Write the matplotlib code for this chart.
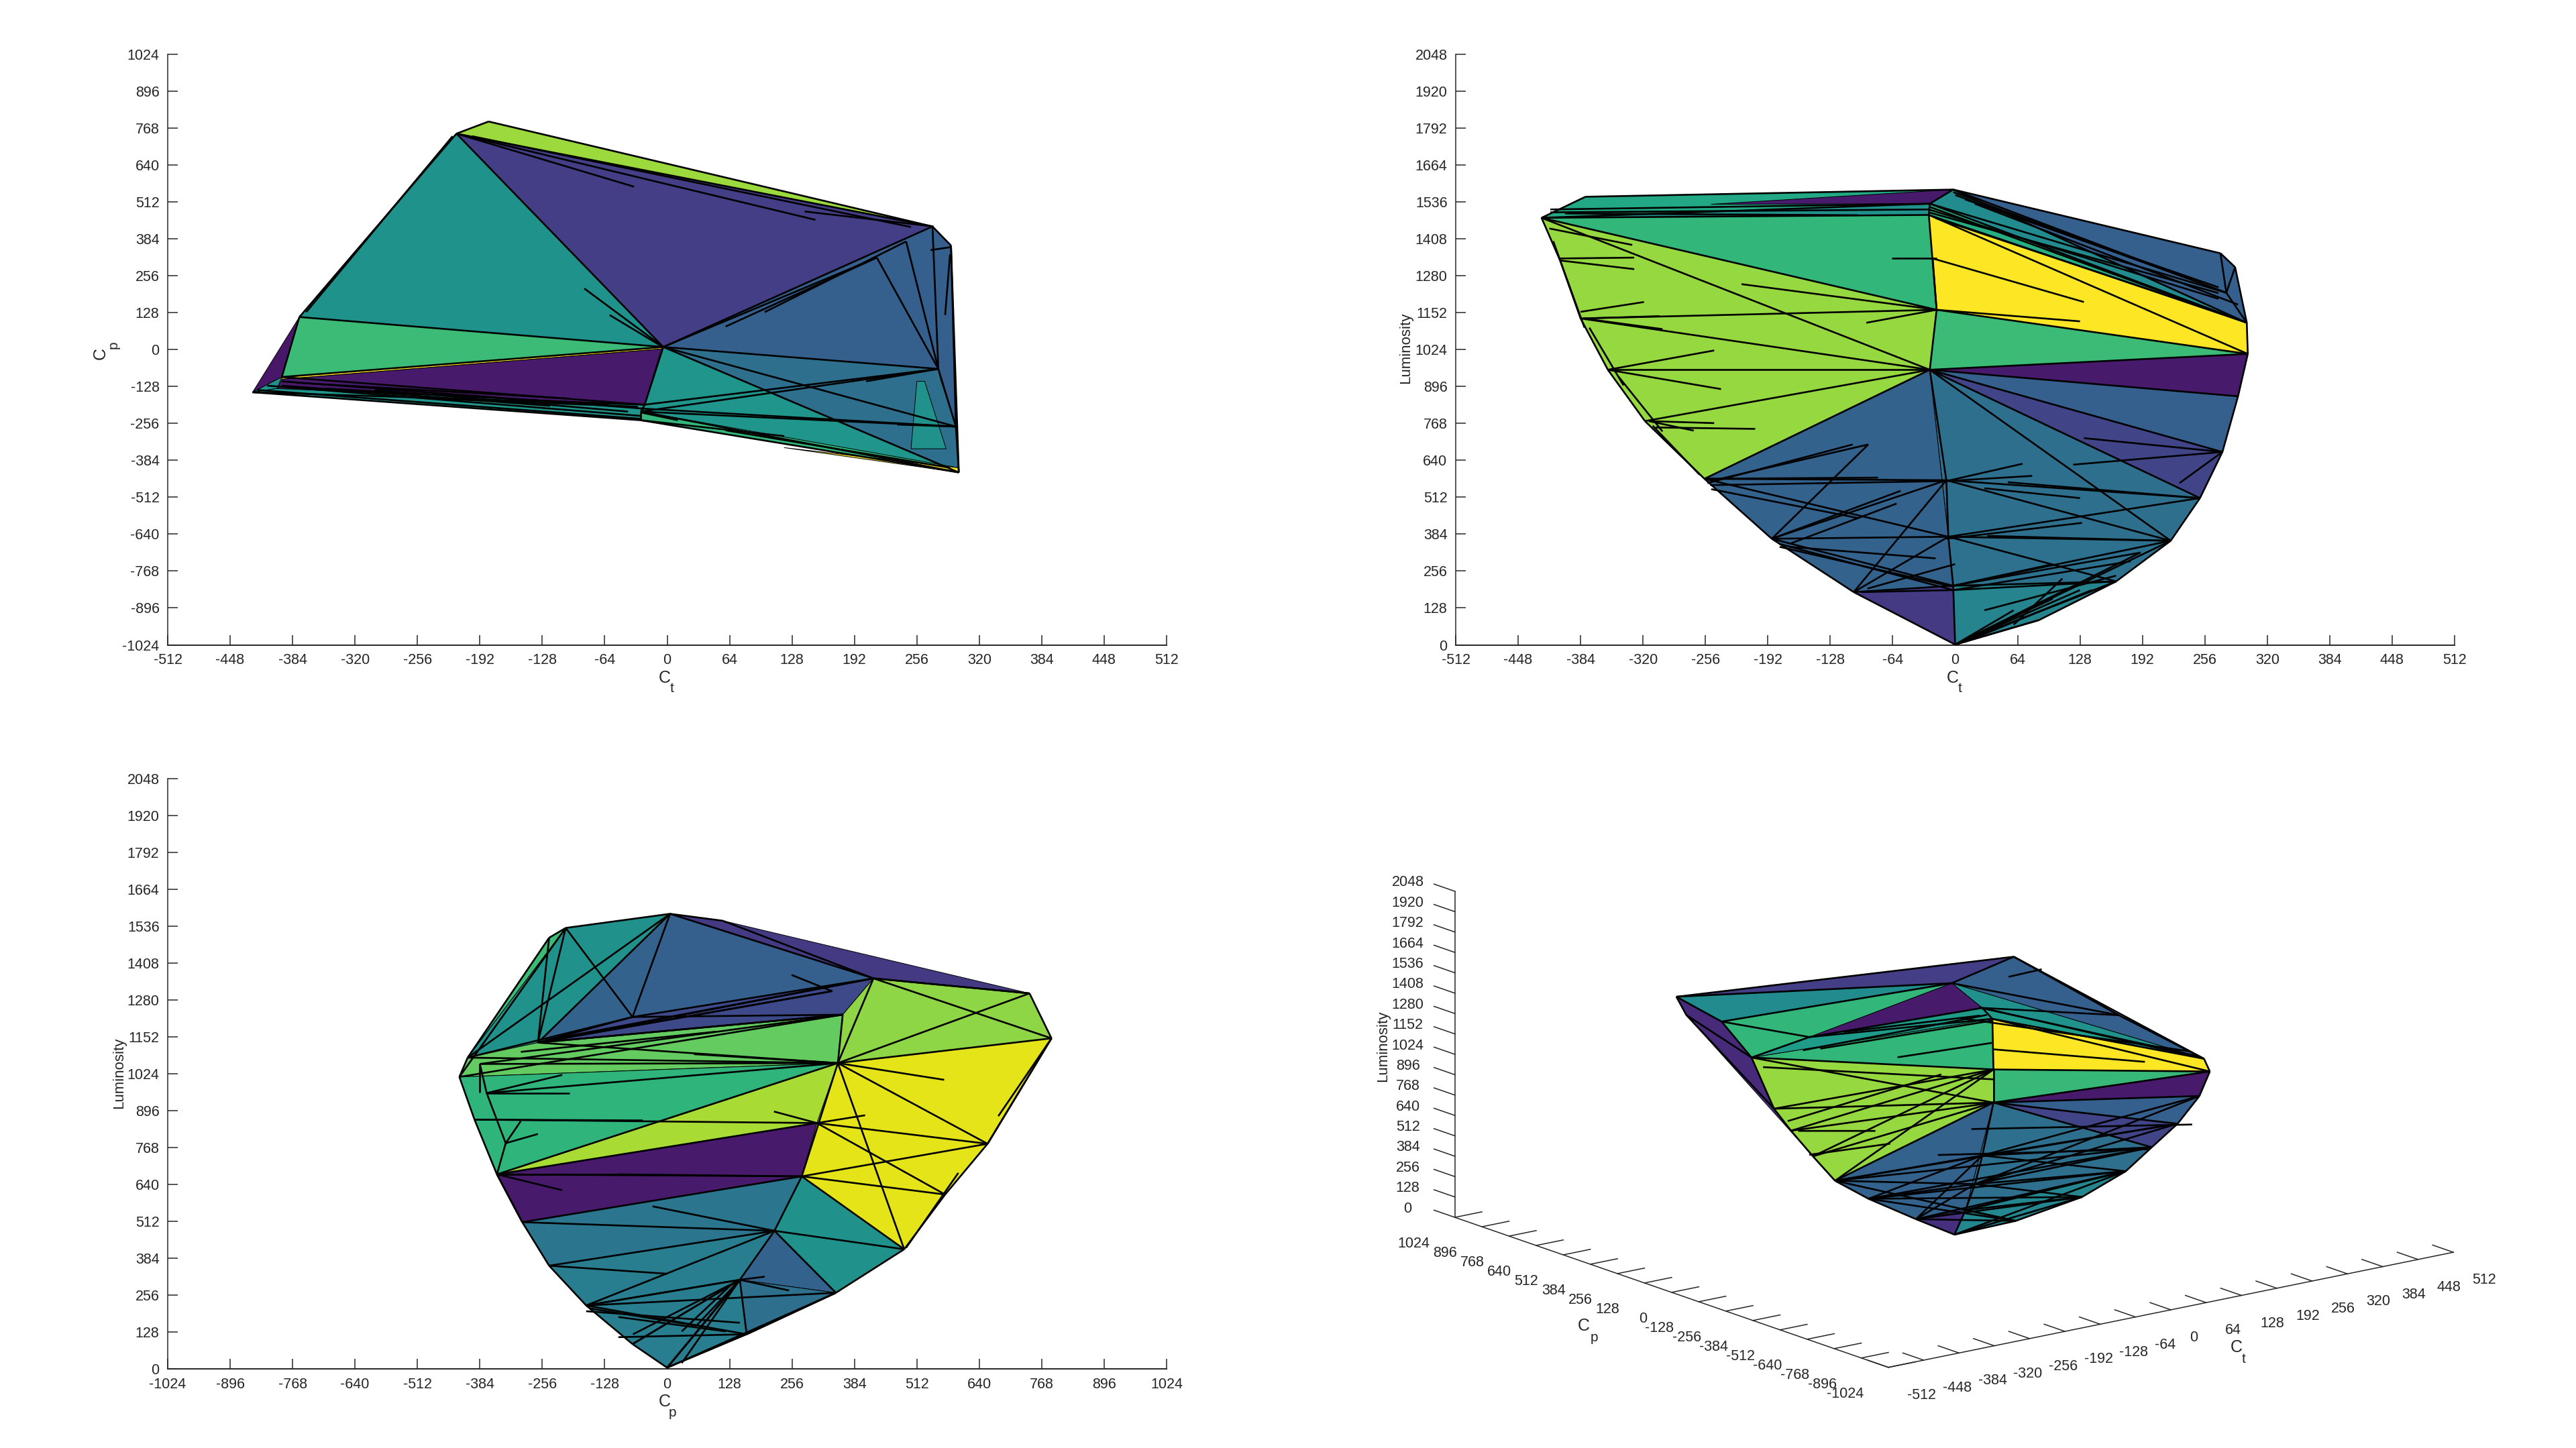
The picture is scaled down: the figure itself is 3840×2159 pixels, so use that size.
import numpy as np
import matplotlib
matplotlib.use('Agg')
import matplotlib.pyplot as plt
from matplotlib.collections import PolyCollection, LineCollection
from matplotlib.colors import Normalize
from mpl_toolkits.mplot3d.art3d import Poly3DCollection, Line3DCollection

plt.rcParams['font.family'] = ['Liberation Sans', 'DejaVu Sans']
plt.rcParams['axes.unicode_minus'] = False

ct_ticks = np.arange(-512, 513, 64)
cp_ticks = np.arange(-1024, 1025, 128)
lum_ticks = np.arange(0, 2049, 128)

# top view, (Ct, Cp)
p1_pts = {'A': (-183, 791), 'B': (-216, 749), 'C': (272, 427), 'D': (291, 361), 'E': (-4, 9),
          'F': (-377, 113), 'G': (-395, -95), 'H': (-425, -148), 'I': (-23, -191), 'J': (-27, -245),
          'K': (299, -426), 'L': (296, -267), 'M': (278, -67), 'N': (215, 319), 'O': (245, 375),
          'P': (-395, -103), 'Q': (-27, -215), 'R': (299, -410), 'S': (-6, 2), 'T': (120, -340),
          'U': (256, -110), 'V': (264, -110), 'W': (286, -344), 'X': (250, -344), 'Y': (275, -240),
          'Z': (280, -100), 'a': (-400, -135), 'b': (-408, 100)}
p1_faces = ['ACB', 'BEF', 'BCE', 'FEG', 'GESP', 'PSIa', 'HFG', 'HGa', 'ECM', 'CDLM', 'EML', 'ELK',
            'EIQK', 'HaIJ', 'QRKJ', 'TRK', 'UVWX', 'ZLM']
p1_vals = [0.85, 0.51, 0.18, 0.68, 1.0, 0.07, 0.06, 0.5, 0.3, 0.3, 0.36, 0.36,
           0.52, 0.52, 0.66, 1.0, 0.5, 0.86]
p1_pairs = ['BE', 'BC', 'BF', 'FE', 'GE', 'EC', 'EM', 'EL', 'EK', 'CM', 'NM', 'OM', 'DL', 'LK',
            'MI', 'MQ', 'QL', 'FG', 'GI', 'HI', 'HJ', 'IQ', 'QJ', 'JK', 'QK', 'AB', 'AC', 'CD',
            'EI', 'EN', 'ML', 'DK']
p1_stray = [(-216, 749, -34, 565), (-216, 749, 152, 450), (-200, 740, 250, 425), (141, 479, 273, 427),
            (-85, 212, -4, 9), (-59, 120, -6, 12), (236, -260, 296, -267), (204, -110, 278, -67),
            (-27, -218, 11, -245), (-395, -110, -23, -205), (-410, -125, -27, -230), (-380, -115, -100, -170),
            (60, 80, 215, 319), (100, 130, 245, 375), (270, 345, 290, 355), (285, 120, 290, 330),
            (-23, -205, 296, -267), (-420, -140, -27, -240), (-300, -140, -40, -215),
            (-240, -170, -30, -198), (-350, -135, -60, -190), (-395, -125, -120, -195),
            (-27, -245, 120, -300), (60, -280, 290, -410), (-370, 130, -220, 740)]

# front view, (Ct, Luminosity)
p2_pts = {'a': (-2, 1579), 'b': (-26, 1530), 'c': (-27, 1491), 'd': (-424, 1481), 'e': (-379, 1554),
          'f': (272, 1358), 'g': (287, 1310), 'h': (299, 1117), 'i': (300, 1009), 'j': (290, 862),
          'k': (274, 669), 'l': (251, 509), 'm': (221, 361), 'n': (165, 220), 'o': (86, 86),
          'p': (0, 1), 'q': (-104, 183), 'r': (-188, 368), 's': (-257, 576), 't': (-318, 776),
          'u': (-356, 954), 'v': (-384, 1132), 'w': (-405, 1333), 'x': (-26, 954), 'y': (-19, 1162),
          'z': (-23, 1340), 'A': (-9, 571), 'B': (-7, 375), 'C': (-2, 205), 'D': (278, 1221),
          'G': (-250, 1528)}
p2_faces = ['eabd', 'Gab', 'dbc', 'dcy', 'dwvutsxy', 'cyi', 'chi', 'yix', 'xij', 'xjk', 'xkl', 'xlmB',
            'BmnC', 'xBCqrs', 'qCp', 'Cpon', 'afgh', 'abh', 'bch']
p2_vals = [0.6, 0.07, 0.5, 0.66, 0.84, 1.0, 1.0, 0.68, 0.07, 0.3, 0.2, 0.36,
           0.37, 0.31, 0.17, 0.45, 0.3, 0.48, 0.62]
p2_pairs = ['dx', 'vy', 'ux', 'vx', 'tx', 'sx', 'dy', 'cy', 'yx', 'xA', 'AB', 'BC', 'Cp', 'xl', 'xm',
            'xk', 'xj', 'xi', 'yi', 'ci', 'ch', 'bh', 'ah', 'aD', 'bD', 'fD', 'gD', 'Dh', 'sA', 'sB',
            'rB', 'rA', 'qB', 'qA', 'rC', 'Am', 'Al', 'Bm', 'Bl', 'Bn', 'Cn', 'Cm', 'pn', 'pm', 'po',
            'qC', 'db', 'dc', 'ea', 'zy', 'ab', 'bc', 'ij', 'jk', 'kl', 'lm', 'mn', 'no',
            'op', 'pq', 'qr', 'rs', 'st', 'tu', 'uv', 'vw', 'wd', 'de', 'af', 'fg', 'gh', 'hi']
p2_stray = [(-219, 1251, -19, 1162), (-91, 1117, -19, 1162), (-384, 1155, -319, 1189), (-381, 1132, -303, 1140),
            (-381, 1132, -300, 1095), (-356, 954, -247, 1021), (-356, 954, -240, 887), (-405, 1340, -329, 1343),
            (-405, 1333, -329, 1303), (-416, 1444, -331, 1387), (-314, 776, -247, 769), (-314, 776, -268, 743),
            (-307, 754, -205, 749), (-65, 1340, -19, 1340), (-254, 576, -79, 580), (-254, 561, -105, 695),
            (-251, 568, -89, 695), (-251, 554, -9, 568), (-188, 368, -89, 695), (-188, 368, -56, 534),
            (-180, 350, -2, 190), (-96, 183, -2, 190), (-9, 568, 69, 628), (-9, 568, 79, 586),
            (54, 564, 251, 509), (30, 543, 128, 509), (-9, 368, 130, 423), (33, 378, 219, 361),
            (121, 625, 274, 669), (132, 717, 274, 669), (230, 561, 274, 669), (-23, 1340, 132, 1189),
            (-19, 1162, 128, 1122), (0, 1, 128, 190), (0, 1, 165, 220), (0, 1, 190, 320), (-2, 1570, 278, 1221),
            (-27, 1520, 299, 1117), (-27, 1510, 270, 1200), (-2, 205, 190, 320), (-2, 190, 165, 220),
            (-415, 1510, -26, 1530), (-415, 1500, -27, 1510), (-400, 1496, -100, 1490),
            (-27, 1500, 270, 1220), (-20, 1480, 290, 1130), (0, 1560, 240, 1270), (20, 1530, 290, 1180),
            (10, 1545, 270, 1240), (-412, 1400, -380, 1100), (-375, 1100, -340, 900), (-345, 930, -300, 740),
            (-310, 760, -262, 590), (-180, 340, -7, 205), (0, 1, 60, 120), (0, 1, 100, 160), (10, 10, 140, 190),
            (-2, 190, 180, 290), (30, 120, 165, 240), (-2, 205, 100, 280), (60, 70, 110, 230),
            (-250, 540, -100, 440), (-170, 350, -60, 490), (-90, 195, 0, 280), (-170, 340, -20, 300)]

# side view, (Cp, Luminosity)
p3_pts = {'a': (6, 1579), 'b': (-208, 1530), 'c': (-242, 1496), 'd': (-409, 1080), 'e': (-426, 1013),
          'f': (-395, 865), 'g': (-349, 675), 'h': (-297, 509), 'i': (-242, 358), 'j': (-166, 220),
          'k': (-71, 86), 'l': (0, 4), 'm': (163, 120), 'n': (346, 264), 'o': (486, 415),
          'p': (570, 605), 'q': (657, 781), 'r': (788, 1147), 's': (743, 1303), 't': (423, 1355),
          'u': (114, 1555), 'v': (350, 1061), 'w': (307, 853), 'x': (276, 668), 'y': (220, 479),
          'z': (-71, 1221), 'A': (-265, 1132), 'B': (360, 1229), 'C': (336, 1310), 'D': (149, 309),
          'E': (-384, 1058), 'F': (-370, 957), 'G': (-331, 783)}
p3_faces = ['bcd', 'bad', 'dAa', 'azA', 'azt', 'aust', 'AztB', 'dABve', 'tsrvB', 'vrqpoxw', 'evgf', 'gvw',
            'gwxh', 'hxyi', 'xoy', 'yon', 'yDn', 'iyDj', 'jDmlk', 'Dnm']
p3_vals = [0.68, 0.5, 0.5, 0.31, 0.3, 0.17, 0.22, 0.76, 0.83, 0.96, 0.65, 0.87,
           0.07, 0.39, 0.5, 0.5, 0.31, 0.42, 0.42, 0.36]
p3_pairs = ['eB', 'eb', 'Ev', 'dv', 'Av', 'Fv', 'fw', 'gx', 'gv', 'hx', 'hy', 'iy', 'jy', 'jD', 'kD', 'mD',
            'lD', 'Dy', 'yn', 'yo', 'nm', 'vq', 'wq', 'wp', 'xq', 'xp', 'vo', 'vx', 'rq', 'vr', 'vs',
            'da', 'dz', 'Aa', 'Az', 'za', 'bz', 'cA', 'bA', 'At', 'zt', 'zB', 'AB', 'AC', 'tv', 'Bv',
            'xy', 'xo', 'ab', 'bc', 'cd', 'de', 'ef', 'fg', 'gh', 'hi', 'ij', 'jk', 'kl', 'lm', 'mn',
            'no', 'op', 'pq', 'qr', 'rs', 'st', 'tu', 'ua', 'ts', 'at', 'EF', 'FG', 'Gg', 'gw', 'gh',
            'jm', 'kD', 'ln', 'jn', 'Dl', 'rt']
p3_stray = [(350, 1061, 568, 1003), (55, 1092, 350, 1061), (307, 853, 219, 893), (307, 853, 406, 880),
            (-30, 564, 220, 479), (255, 1367, 339, 1310), (679, 877, 788, 1147), (490, 420, 597, 680),
            (-370, 957, -200, 957), (-370, 957, -215, 1020), (-395, 865, -50, 862), (-349, 675, -50, 675),
            (-349, 675, -215, 620), (-331, 783, -265, 815), (-100, 675, 276, 668), (-331, 783, -300, 860),
            (149, 309, 250, 272), (-242, 358, 0, 330), (149, 309, 200, 320), (149, 309, 60, 150),
            (149, 309, 30, 20), (149, 309, 0, 4), (130, 290, 30, 130), (-166, 220, 149, 309),
            (-166, 200, 149, 160), (-100, 110, 163, 120), (-70, 120, 149, 309), (-100, 180, 120, 130),
            (-160, 210, 60, 150), (-265, 1132, 336, 1310), (-250, 1140, 423, 1355), (-265, 1132, 360, 1229),
            (-384, 1058, 360, 1229), (-300, 1100, 100, 1170), (-384, 1058, -384, 960)]

# 3d view, (Ct, Cp, Luminosity)
p4_pts = {'A': (1, 1, 0), 'B': (-20, -238, 954), 'C': (-20, -238, 1162), 'D': (-27, -251, 1491),
          'E': (-23, -193, 1530), 'T': (-2, 6, 1579), 'F': (272, 427, 1358), 'W': (-216, 749, 1303),
          'd': (-424, -148, 1481), 'e': (-378, 113, 1554), 'i': (300, -426, 1010), 'h': (296, -409, 1085),
          'j': (285, -416, 862), 'k': (270, -352, 669), 'l': (247, -290, 509), 'm': (216, -248, 361),
          'n': (155, -200, 220), 'o': (71, -106, 86), 'q': (-88, -49, 183), 'r': (-172, -44, 368),
          's': (-260, -115, 576), 't': (-295, -102, 748), 'u': (-319, -61, 907), 'v': (-384, -150, 1132),
          'a': (-6, -149, 571), 'b': (-6, -114, 375), 'c': (-13, -88, 205), 'g': (-311, -127, 1520),
          'H': (271, -72, 1221), 'p': (-183, 788, 1147)}
p4_faces = ['WFT', 'WTe', 'TFHh', 'TEh', 'Teg', 'egd', 'TEg', 'gEDd', 'EDh', 'dDC', 'DhiC', 'dvutsBC', 'CiB',
            'Bij', 'Bjk', 'Bkl', 'Blmc', 'Bsrqc', 'qcA', 'cAonm', 'Wpvde', 'pvuts']
p4_vals = [0.18, 0.48, 0.3, 0.5, 0.66, 0.66, 0.07, 0.55, 0.55, 0.66, 1.0, 0.84, 0.67,
           0.07, 0.3, 0.2, 0.36, 0.31, 0.14, 0.46, 0.12, 0.14]
p4_pairs = ['dC', 'dB', 'vC', 'vB', 'uC', 'uB', 'tB', 'tC', 'sB', 'sC', 'Ba', 'ab', 'bc', 'cA', 'sa', 'sb',
            'ra', 'rb', 'qb', 'qa', 'la', 'lb', 'ma', 'mb', 'ka', 'jb', 'nb', 'nc', 'mc', 'oc', 'oA',
            'DC', 'CB', 'Di', 'Ci', 'Bi', 'Bj', 'Bk', 'Bl', 'Dh', 'Eh', 'TF', 'TH', 'FH', 'Hh', 'EH',
            'gD', 'gE', 'ED', 'eg', 'de', 'dg', 'Te', 'WT', 'WF', 'We', 'Fh', 'hi', 'ij', 'jk', 'kl',
            'lm', 'mn', 'no', 'Aq', 'qr', 'rs', 'st', 'tu', 'uv', 'vd', 'Wp', 'pd', 'pv',
            'rl', 'sl', 'qm', 'rm', 'sk', 'qn', 'rn', 'kb', 'ja', 'qo', 'cm', 'An', 'Am', 'ro', 'so']
p4_stray = [(-197, -246, 1367, -26, -246, 1337), (-377, -246, 1032, -237, -246, 933),
            (-357, -246, 868, -210, -246, 834), (-63, -246, 822, 337, -246, 568),
            (-124, -246, 702, 257, -246, 469), (256, 410, 1251, 316, 410, 1256),
            (-300, -150, 1450, -27, -251, 1480), (-250, -130, 1510, -30, -200, 1490),
            (-320, -120, 1440, -25, -220, 1500), (-60, -190, 1490, 280, -380, 1130),
            (-20, -170, 1520, 290, -400, 1100), (-27, -251, 1300, 200, -380, 1120),
            (-400, -140, 1400, -20, -238, 1100), (-340, -100, 1000, -100, -200, 1170)]


def hull_2d(ax, pts, faces, vals, pairs, stray):
    polys = [[pts[n] for n in f] for f in faces]
    coll = PolyCollection(polys, array=np.array(vals), cmap='viridis', norm=Normalize(0, 1),
                          edgecolors='k', linewidths=0.7, zorder=2)
    ax.add_collection(coll)
    segs = [(pts[p[0]], pts[p[1]]) for p in pairs]
    segs += [((s[0], s[1]), (s[2], s[3])) for s in stray]
    ax.add_collection(LineCollection(segs, colors='k', linewidths=1.9, zorder=3))


def style_2d(ax, xticks, yticks):
    ax.set_xlim(xticks[0], xticks[-1])
    ax.set_ylim(yticks[0], yticks[-1])
    ax.set_xticks(xticks)
    ax.set_yticks(yticks)
    ax.tick_params(direction='in', length=11, width=1.1, labelsize=15.5, pad=9, colors='#262626')
    ax.spines['top'].set_visible(False)
    ax.spines['right'].set_visible(False)
    ax.spines['left'].set_linewidth(1.1)
    ax.spines['left'].set_color('#262626')
    ax.spines['bottom'].set_linewidth(1.4)
    ax.spines['bottom'].set_color('#262626')


W, H = 3840, 2159
fig = plt.figure(figsize=(W / 100, H / 100), dpi=100)


def axes_px(x0, y0, x1, y1, **kw):
    return fig.add_axes([x0 / W, 1 - y1 / H, (x1 - x0) / W, (y1 - y0) / H], **kw)


def text_px(x, y, s, size=18, rotation=0):
    fig.text(x / W, 1 - y / H, s, fontsize=size, color='#262626', rotation=rotation, ha='center', va='center')


ax1 = axes_px(250, 81, 1739, 961.5)
hull_2d(ax1, p1_pts, p1_faces, p1_vals, p1_pairs, p1_stray)
style_2d(ax1, ct_ticks, cp_ticks)
text_px(991, 1011, 'C')
text_px(1002, 1027, 't', 15)
text_px(150, 527, 'C', 18, 90)
text_px(169, 514, 'p', 15, 90)

ax2 = axes_px(2170, 81, 3659, 961.5)
hull_2d(ax2, p2_pts, p2_faces, p2_vals, p2_pairs, p2_stray)
style_2d(ax2, ct_ticks, lum_ticks)
text_px(2911, 1011, 'C')
text_px(2922, 1027, 't', 15)
text_px(2096, 519, 'Luminosity', 16, 90)

ax3 = axes_px(250, 1161, 1739, 2041)
hull_2d(ax3, p3_pts, p3_faces, p3_vals, p3_pairs, p3_stray)
style_2d(ax3, cp_ticks, lum_ticks)
text_px(991, 2090, 'C')
text_px(1002, 2106, 'p', 15)
text_px(178, 1600, 'Luminosity', 16, 90)

# 3d panel
side = 1700
cx, cy = 2890, 1621
ax4 = axes_px(cx - side / 2, cy - side / 2, cx + side / 2, cy + side / 2, projection='3d', proj_type='ortho')
ax4.patch.set_visible(False)
ax4.view_init(elev=15.4, azim=-127.5)
ax4.set_box_aspect((1061, 1061, 504), zoom=0.9044)
ax4.set_xlim(ct_ticks[0], ct_ticks[-1], view_margin=0)
ax4.set_ylim(cp_ticks[0], cp_ticks[-1], view_margin=0)
ax4.set_zlim(lum_ticks[0], lum_ticks[-1], view_margin=0)
ax4.set_xticks(ct_ticks)
ax4.set_yticks(cp_ticks)
ax4.set_zticks(lum_ticks)
ax4.grid(False)
for axis in (ax4.xaxis, ax4.yaxis, ax4.zaxis):
    axis.pane.set_visible(False)
    axis.line.set_color('#262626')
    axis.line.set_linewidth(1.1)
    axis._axinfo['tick']['inward_factor'] = 0.0
    axis._axinfo['tick']['outward_factor'] = 0.6
    axis._axinfo['tick']['linewidth'] = {True: 1.1, False: 1.1}
    axis._axinfo['tick']['color'] = '#262626'
# luminosity ticks run along Cp in the reference
ax4.zaxis._get_tickdir = lambda pos: 1
ax4.tick_params(labelsize=15.5, pad=20, colors='#262626')
ax4.zaxis.set_tick_params(pad=22)
plt.setp(ax4.get_xticklabels(), ha='left')
plt.setp(ax4.get_yticklabels(), ha='right')
plt.setp(ax4.get_zticklabels(), va='bottom')
ax4.computed_zorder = False
polys = [[p4_pts[n] for n in f] for f in p4_faces]
ax4.add_collection3d(Poly3DCollection(polys, facecolors=plt.cm.viridis(np.array(p4_vals)), edgecolors='k',
                                      linewidths=0.7, shade=False, zorder=2))
segs = [(p4_pts[p[0]], p4_pts[p[1]]) for p in p4_pairs]
segs += [(s[:3], s[3:]) for s in p4_stray]
ax4.add_collection3d(Line3DCollection(segs, colors='k', linewidths=1.9, zorder=3))

text_px(3334, 2009, 'C')
text_px(3345, 2026, 't', 15)
text_px(2361, 1977, 'C')
text_px(2376, 1994, 'p', 15)
text_px(2062, 1560, 'Luminosity', 16, 90)

fig.savefig('out.png', dpi=100)
